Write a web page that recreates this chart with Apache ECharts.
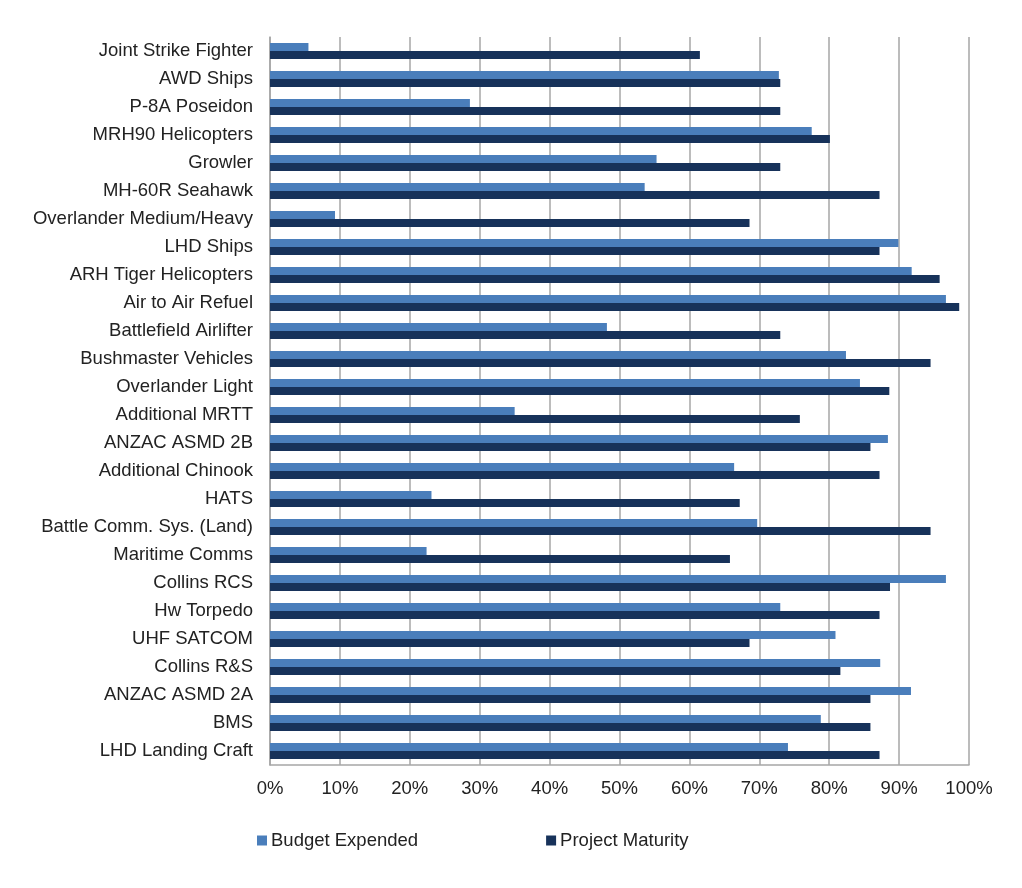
<!DOCTYPE html>
<html>
<head>
<meta charset="utf-8">
<script src="https://cdn.jsdelivr.net/npm/echarts@6/dist/echarts.min.js"></script>
<style>html,body{margin:0;padding:0;background:#fff}#c{width:1022px;height:888px}</style>
</head>
<body>
<div id="c"></div>
<script>
var categories = ["Joint Strike Fighter","AWD Ships","P-8A Poseidon","MRH90 Helicopters","Growler","MH-60R Seahawk","Overlander Medium/Heavy","LHD Ships","ARH Tiger Helicopters","Air to Air Refuel","Battlefield Airlifter","Bushmaster Vehicles","Overlander Light","Additional MRTT","ANZAC ASMD 2B","Additional Chinook","HATS","Battle Comm. Sys. (Land)","Maritime Comms","Collins RCS","Hw Torpedo","UHF SATCOM","Collins R&S","ANZAC ASMD 2A","BMS","LHD Landing Craft"];
var budgetExpended = [5.5,72.8,28.6,77.5,55.3,53.6,9.3,89.9,91.8,96.7,48.2,82.4,84.4,35.0,88.4,66.4,23.1,69.7,22.4,96.7,73.0,80.9,87.3,91.7,78.8,74.1];
var projectMaturity = [61.5,73.0,73.0,80.1,73.0,87.2,68.6,87.2,95.8,98.6,73.0,94.5,88.6,75.8,85.9,87.2,67.2,94.5,65.8,88.7,87.2,68.6,81.6,85.9,85.9,87.2];
var seriesNames = ["Budget Expended","Project Maturity"];

var chart = echarts.init(document.getElementById('c'), null, {renderer:'canvas'});
var font = 'Liberation Sans, Arial, sans-serif';
chart.setOption({
  animation: false,
  backgroundColor: '#fff',
  grid: {left: 270, right: 53, top: 37, bottom: 123, containLabel: false},
  legend: {
    data: seriesNames,
    left: 257, top: 831, padding: 0,
    itemWidth: 10, itemHeight: 10, itemGap: 128,
    icon: 'rect',
    textStyle: {fontFamily: font, fontSize: 18.5, color: '#222', padding: [0, 0, 0, -1]}
  },
  xAxis: {
    type: 'value', min: 0, max: 100, interval: 10,
    axisLabel: {formatter: '{value}%', fontFamily: font, fontSize: 18.5, color: '#222', margin: 14},
    axisLine: {show: true, lineStyle: {color: '#a6a6a6', width: 1.5}},
    axisTick: {show: false},
    splitLine: {show: true, lineStyle: {color: '#a6a6a6', width: 1.5}}
  },
  yAxis: {
    type: 'category', data: categories, inverse: true,
    axisLabel: {fontFamily: font, fontSize: 18.5, color: '#222', margin: 17},
    axisLine: {show: true, lineStyle: {color: '#a6a6a6', width: 1.5}},
    axisTick: {show: false}
  },
  series: [
    {name: seriesNames[0], type: 'bar', data: budgetExpended, barWidth: 8, barGap: '0%',
     itemStyle: {color: '#4a7ebb'}},
    {name: seriesNames[1], type: 'bar', data: projectMaturity, barWidth: 8, barGap: '0%',
     itemStyle: {color: '#17325a'}}
  ]
});
</script>
</body>
</html>
